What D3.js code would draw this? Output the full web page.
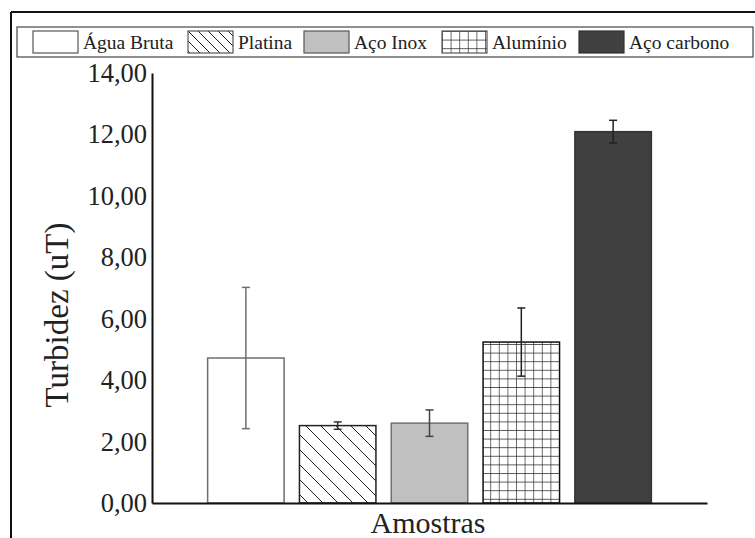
<!DOCTYPE html>
<html>
<head>
<meta charset="utf-8">
<script src="https://cdn.jsdelivr.net/npm/d3@7"></script>
<style>
  html, body { margin: 0; padding: 0; background: #fff; }
  svg { display: block; }
  svg text { font-family: "Liberation Serif", "Times New Roman", serif !important; }
</style>
</head>
<body>
<svg id="chart" width="755" height="538"></svg>
<script>
// Turbidity by sample material
const categories = ["Água Bruta", "Platina", "Aço Inox", "Alumínio", "Aço carbono"];
const means = [4.72, 2.52, 2.60, 5.24, 12.09];
const errors = [2.30, 0.12, 0.43, 1.11, 0.37];
const yTicks = [0, 2, 4, 6, 8, 10, 12, 14];

const svg = d3.select("#chart");
const W = 755, H = 538;
const SERIF = "'Liberation Serif', 'Times New Roman', serif";

// outer frame (top and left edges visible)
svg.append("line").attr("x1", 11).attr("x2", W).attr("y1", 12).attr("y2", 12)
  .attr("stroke", "#111").attr("stroke-width", 2);
svg.append("line").attr("x1", 11).attr("x2", 11).attr("y1", 12).attr("y2", H)
  .attr("stroke", "#111").attr("stroke-width", 2);

// fill patterns
const defs = svg.append("defs");
const hatch = defs.append("pattern").attr("id", "hatch")
  .attr("patternUnits", "userSpaceOnUse").attr("width", 15).attr("height", 15);
hatch.append("rect").attr("width", 15).attr("height", 15).attr("fill", "#fff");
hatch.append("path").attr("d", "M-4,-4 L19,19 M-4,11 L4,19 M11,-4 L19,4")
  .attr("stroke", "#222").attr("stroke-width", 1);

const hatchSmall = defs.append("pattern").attr("id", "hatchSmall")
  .attr("patternUnits", "userSpaceOnUse").attr("width", 10).attr("height", 10);
hatchSmall.append("rect").attr("width", 10).attr("height", 10).attr("fill", "#fff");
hatchSmall.append("path").attr("d", "M-3,-3 L13,13 M-3,7 L3,13 M7,-3 L13,3")
  .attr("stroke", "#222").attr("stroke-width", 1);

const grid = defs.append("pattern").attr("id", "grid")
  .attr("patternUnits", "userSpaceOnUse").attr("width", 8.6).attr("height", 8.6);
grid.append("rect").attr("width", 8.6).attr("height", 8.6).attr("fill", "#fff");
grid.append("path").attr("d", "M0,0 L0,8.6 M0,0 L8.6,0")
  .attr("stroke", "#222").attr("stroke-width", 1.3);

const fills = ["#ffffff", "url(#hatch)", "#c0c0c0", "url(#grid)", "#404040"];
const legendFills = ["#ffffff", "url(#hatchSmall)", "#c0c0c0", "url(#grid)", "#404040"];
const strokes = ["#6e6e6e", "#222", "#707070", "#111", "#333"];
const errColors = ["#6e6e6e", "#333", "#444", "#222", "#222"];

// scales
const x = d3.scaleBand().domain(categories).range([152, 707])
  .paddingInner(0.167).paddingOuter(0.606);
const y = d3.scaleLinear().domain([0, 14]).range([503, 73]);

// bars
svg.append("g").selectAll("rect").data(categories).join("rect")
  .attr("x", d => x(d))
  .attr("y", (d, i) => y(means[i]))
  .attr("width", x.bandwidth())
  .attr("height", (d, i) => y(0) - y(means[i]))
  .attr("fill", (d, i) => fills[i])
  .attr("stroke", (d, i) => strokes[i])
  .attr("stroke-width", 1.5);

// error bars
const eb = svg.append("g").selectAll("g").data(categories).join("g")
  .attr("stroke", (d, i) => errColors[i]).attr("stroke-width", 1.5);
eb.append("line")
  .attr("x1", d => x(d) + x.bandwidth() / 2).attr("x2", d => x(d) + x.bandwidth() / 2)
  .attr("y1", (d, i) => y(means[i] + errors[i])).attr("y2", (d, i) => y(means[i] - errors[i]));
eb.append("line")
  .attr("x1", d => x(d) + x.bandwidth() / 2 - 4).attr("x2", d => x(d) + x.bandwidth() / 2 + 4)
  .attr("y1", (d, i) => y(means[i] + errors[i])).attr("y2", (d, i) => y(means[i] + errors[i]));
eb.append("line")
  .attr("x1", d => x(d) + x.bandwidth() / 2 - 4).attr("x2", d => x(d) + x.bandwidth() / 2 + 4)
  .attr("y1", (d, i) => y(means[i] - errors[i])).attr("y2", (d, i) => y(means[i] - errors[i]));

// axes
const fmt = v => d3.format(".2f")(v).replace(".", ",");
const yAxis = svg.append("g").attr("transform", "translate(152,0)")
  .call(d3.axisLeft(y).tickValues(yTicks).tickFormat(fmt).tickSize(0).tickPadding(5));
yAxis.attr("font-family", null).attr("font-size", null);
yAxis.select(".domain").attr("stroke", "#111").attr("stroke-width", 2);
yAxis.selectAll("text").style("font-family", SERIF).style("font-size", "26.5px")
  .attr("fill", "#222");

const xAxis = svg.append("g").attr("transform", "translate(0,503)")
  .call(d3.axisBottom(x).tickSize(0).tickFormat(""));
xAxis.select(".domain").attr("stroke", "#111").attr("stroke-width", 2);

// axis titles
svg.append("text").attr("x", 428).attr("y", 533).attr("text-anchor", "middle")
  .style("font-family", SERIF).style("font-size", "30px").attr("fill", "#222").text("Amostras");
svg.append("text").attr("transform", "translate(68,315) rotate(-90)")
  .attr("text-anchor", "middle").style("font-family", SERIF).style("font-size", "33px")
  .attr("fill", "#222").text("Turbidez (uT)");

// legend
svg.append("rect").attr("x", 17).attr("y", 27).attr("width", 736).attr("height", 30)
  .attr("fill", "#fff").attr("stroke", "#555").attr("stroke-width", 1.3);
const swatchX = [33, 188, 304, 442, 579];
const lg = svg.append("g").selectAll("g").data(categories).join("g")
  .attr("transform", (d, i) => `translate(${swatchX[i]},31)`);
lg.append("rect").attr("width", 45).attr("height", 22)
  .attr("fill", (d, i) => legendFills[i])
  .attr("stroke", (d, i) => i === 4 ? "#333" : "#555").attr("stroke-width", 1.2);
lg.append("text").attr("x", 50).attr("y", 18)
  .style("font-family", SERIF).style("font-size", "19.5px")
  .attr("fill", "#222").text(d => d);
</script>
</body>
</html>
